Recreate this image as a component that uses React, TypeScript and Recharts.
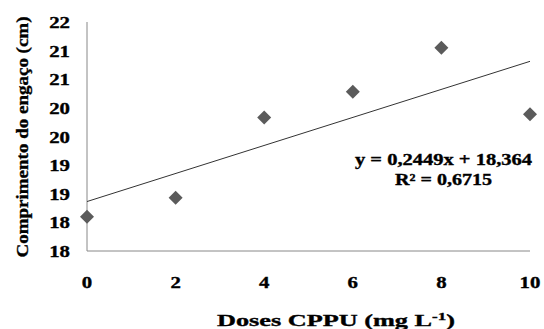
import { ScatterChart, Scatter, XAxis, YAxis } from "recharts";

const doses = [0, 2, 4, 6, 8, 10];
const stemLength = [18.1, 18.43, 19.83, 20.28, 21.05, 19.89];
const xTicks = [0, 2, 4, 6, 8, 10];
const yTicks = [17.5, 18, 18.5, 19, 19.5, 20, 20.5, 21, 21.5];

// linear fit shown on the chart
const slope = 0.2449;
const intercept = 18.364;
const r2 = 0.6715;

const points = doses.map((x, i) => ({ x, y: stemLength[i] }));
const trend = [0, 10].map((x) => ({ x, y: intercept + slope * x }));

const font = "'Liberation Serif', 'Times New Roman', serif";
const ink = "#000";
// heavier bold, like the exported figure
const textStyle = {
  fontFamily: font,
  fontWeight: "bold" as const,
  fill: ink,
  stroke: ink,
  strokeWidth: 0.35,
};

function Diamond(props: any) {
  const { cx, cy } = props;
  const r = 7;
  return (
    <polygon
      points={`${cx},${cy - r} ${cx + r},${cy} ${cx},${cy + r} ${cx - r},${cy}`}
      fill="#5b5b5b"
    />
  );
}

function YTick(props: any) {
  const { y, payload } = props;
  return (
    <text
      transform={`translate(70, ${y + 6}) scale(1.3, 1)`}
      textAnchor="end"
      fontSize={16}
      {...textStyle}
    >
      {Math.round(payload.value)}
    </text>
  );
}

function XTick(props: any) {
  const { x, payload } = props;
  return (
    <text
      transform={`translate(${x}, 288) scale(1.3, 1)`}
      textAnchor="middle"
      fontSize={16}
      {...textStyle}
    >
      {payload.value}
    </text>
  );
}

export default function App() {
  return (
    <div style={{ position: "absolute", left: 0, top: 0, background: "#fff" }}>
      <ScatterChart
        width={544}
        height={329}
        margin={{ top: 22, right: 14, bottom: 0, left: 0 }}
      >
        <XAxis
          type="number"
          dataKey="x"
          domain={[0, 10]}
          ticks={xTicks}
          height={78}
          tickLine={false}
          axisLine={{ stroke: "#888" }}
          tick={<XTick />}
          interval={0}
        />
        <YAxis
          type="number"
          dataKey="y"
          domain={[17.5, 21.5]}
          ticks={yTicks}
          width={87}
          tickLine={false}
          axisLine={{ stroke: "#888" }}
          tick={<YTick />}
          interval={0}
        />
        <Scatter
          data={trend}
          line={{ stroke: "#333", strokeWidth: 1 }}
          shape={() => <g />}
          isAnimationActive={false}
        />
        <Scatter
          data={points}
          shape={<Diamond />}
          isAnimationActive={false}
        />
        <text
          x={355}
          y={165}
          textLength={177}
          lengthAdjust="spacingAndGlyphs"
          fontSize={16}
          {...textStyle}
        >
          {`y = ${String(slope).replace(".", ",")}x + ${String(intercept).replace(".", ",")}`}
        </text>
        <text
          x={395}
          y={185}
          textLength={97}
          lengthAdjust="spacingAndGlyphs"
          fontSize={16}
          {...textStyle}
        >
          {`R² = ${String(r2).replace(".", ",")}`}
        </text>
        <text
          x={217}
          y={326}
          textLength={238}
          lengthAdjust="spacingAndGlyphs"
          fontSize={17}
          {...textStyle}
        >
          Doses CPPU (mg L
          <tspan dy={-6} fontSize={11}>-1</tspan>
          <tspan dy={6}>)</tspan>
        </text>
        <text
          transform="translate(28, 137) rotate(-90)"
          textAnchor="middle"
          textLength={241}
          lengthAdjust="spacingAndGlyphs"
          fontSize={17}
          {...textStyle}
        >
          Comprimento do engaço (cm)
        </text>
      </ScatterChart>
    </div>
  );
}
